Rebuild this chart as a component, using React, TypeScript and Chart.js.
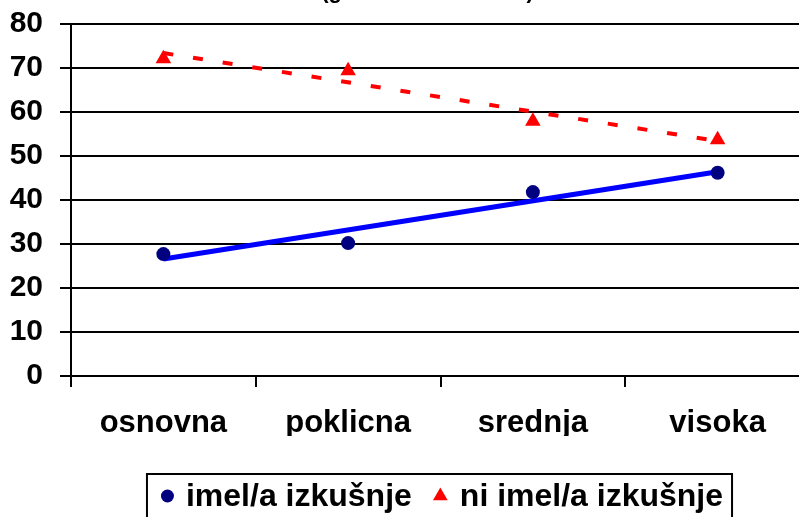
import React, { useEffect, useRef } from "react";
import { Chart, registerables } from "chart.js";

Chart.register(...registerables);

const categories = ["osnovna", "poklicna", "srednja", "visoka"];
const seriesNames = ["imel/a izkušnje", "ni imel/a izkušnje"];
const imelValues = [27.7, 30.2, 41.8, 46.2];
const niImelValues = [72.1, 69.4, 57.9, 53.7];
// trend line end values (first and last category)
const imelTrend = [26.6, null, null, 46.4];
const niImelTrend = [73.4, null, null, 53.4];
const yTicks = { min: 0, max: 80, step: 10 };
const titleText = "(glede na izobrazbo)";

const FONT = '"Liberation Sans", Arial, sans-serif';

const titlePlugin = {
  id: "cutTitle",
  afterDraw(chart: any) {
    const ctx = chart.ctx;
    const ca = chart.chartArea;
    ctx.save();
    ctx.font = `bold 22px ${FONT}`;
    ctx.fillStyle = "#000";
    ctx.textAlign = "center";
    ctx.textBaseline = "alphabetic";
    ctx.fillText(titleText, (ca.left + ca.right) / 2 - 13, -2);
    ctx.restore();
  },
};

const legendPlugin = {
  id: "boxLegend",
  afterDraw(chart: any) {
    const ctx = chart.ctx;
    const ca = chart.chartArea;
    const items = chart.data.datasets.filter((d: any) => d.inLegend);
    ctx.save();
    ctx.font = `bold 32px ${FONT}`;
    const padL = 14;
    const padR = 9;
    const markerGap = 12;
    const itemGap = 21;
    const markerWs = items.map((d: any) => (d.pointStyle === "triangle" ? 15 : 13));
    const widths = items.map((d: any) => ctx.measureText(d.label).width);
    let total = padL + padR;
    widths.forEach((w: number, i: number) => {
      total += markerWs[i] + markerGap + w + (i > 0 ? itemGap : 0);
    });
    const cx = (ca.left + ca.right) / 2 - 1;
    const left = cx - total / 2;
    const top = 474;
    const midY = 496;
    ctx.strokeStyle = "#000";
    ctx.lineWidth = 2;
    ctx.strokeRect(left, top, total, 80);
    let x = left + padL;
    items.forEach((d: any, i: number) => {
      if (i > 0) x += itemGap;
      const mx = x + markerWs[i] / 2;
      ctx.fillStyle = d.backgroundColor;
      ctx.beginPath();
      if (d.pointStyle === "triangle") {
        const r = 8.5;
        ctx.moveTo(mx, midY - r);
        ctx.lineTo(mx + r * 0.866, midY + r / 2);
        ctx.lineTo(mx - r * 0.866, midY + r / 2);
        ctx.closePath();
      } else {
        ctx.arc(mx, midY, 6.5, 0, Math.PI * 2);
      }
      ctx.fill();
      x += markerWs[i] + markerGap;
      ctx.fillStyle = "#000";
      ctx.textAlign = "left";
      ctx.textBaseline = "middle";
      ctx.fillText(d.label, x, midY + 1);
      x += widths[i];
    });
    ctx.restore();
  },
};

export default function App() {
  const ref = useRef<HTMLCanvasElement>(null);

  useEffect(() => {
    if (!ref.current) return;
    const chart = new Chart(ref.current, {
      type: "line",
      data: {
        labels: categories,
        datasets: [
          {
            label: seriesNames[0],
            data: imelValues,
            showLine: false,
            pointStyle: "circle",
            pointRadius: 7,
            pointHoverRadius: 7,
            backgroundColor: "#000080",
            borderColor: "#000080",
            pointBorderWidth: 0,
            inLegend: true,
          } as any,
          {
            label: seriesNames[1],
            data: niImelValues,
            showLine: false,
            pointStyle: "triangle",
            pointRadius: 9,
            pointHoverRadius: 9,
            backgroundColor: "#FF0000",
            borderColor: "#FF0000",
            pointBorderWidth: 0,
            inLegend: true,
          } as any,
          {
            label: "trend " + seriesNames[0],
            data: imelTrend,
            spanGaps: true,
            borderColor: "#0000FF",
            borderWidth: 5,
            pointRadius: 0,
            pointHoverRadius: 0,
            fill: false,
            tension: 0,
          } as any,
          {
            label: "trend " + seriesNames[1],
            data: niImelTrend,
            spanGaps: true,
            borderColor: "#FF0000",
            borderWidth: 4,
            borderDash: [10, 20],
            borderCapStyle: "butt",
            pointRadius: 0,
            pointHoverRadius: 0,
            fill: false,
            tension: 0,
          } as any,
        ],
      },
      options: {
        responsive: false,
        animation: false,
        devicePixelRatio: 1,
        layout: { padding: { top: 24, left: 0, right: 0, bottom: 104 } },
        plugins: {
          legend: { display: false },
          title: { display: false },
          tooltip: { enabled: false },
        },
        events: [],
        scales: {
          x: {
            type: "category",
            offset: true,
            grid: {
              offset: true,
              drawOnChartArea: false,
              drawTicks: true,
              tickLength: 11,
              color: "#000",
              lineWidth: 2,
            },
            border: { display: true, color: "#000", width: 2 },
            ticks: {
              color: "#000",
              font: { family: FONT, size: 31, weight: "bold" },
              padding: 18,
              maxRotation: 0,
              autoSkip: false,
            },
            afterFit(scale: any) {
              scale.height = 60;
              scale.paddingLeft = 0;
              scale.paddingRight = 0;
            },
          },
          y: {
            min: yTicks.min,
            max: yTicks.max,
            grid: {
              color: "#000",
              lineWidth: 2,
              tickLength: 11,
              drawTicks: true,
            },
            border: { display: true, color: "#000", width: 2 },
            ticks: {
              stepSize: yTicks.step,
              color: "#000",
              font: { family: FONT, size: 30, weight: "bold" },
              padding: 17,
            },
            afterFit(scale: any) {
              scale.width = 71;
              scale.paddingTop = 18;
              scale.paddingBottom = 18;
            },
          },
        },
      } as any,
      plugins: [titlePlugin, legendPlugin],
    });
    return () => chart.destroy();
  }, []);

  return (
    <div
      style={{
        position: "fixed",
        left: 0,
        top: 0,
        width: 799,
        height: 517,
        overflow: "hidden",
        background: "#fff",
      }}
    >
      <canvas ref={ref} width={819} height={540} style={{ display: "block" }} />
    </div>
  );
}
